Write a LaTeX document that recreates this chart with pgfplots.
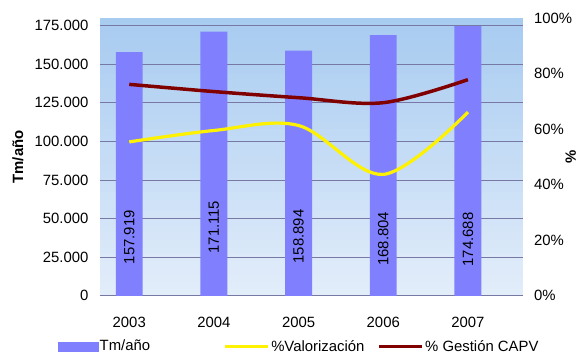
\documentclass[border=0pt]{standalone}
\usepackage{pgfplots}
\pgfplotsset{compat=1.18}
\usepackage{fontspec}
\setmainfont{Liberation Sans}

\definecolor{barblue}{RGB}{128,128,255}
\definecolor{darkred}{RGB}{128,0,0}
\definecolor{gridcol}{RGB}{120,120,165}
\definecolor{bgtop}{RGB}{166,202,240}
\definecolor{bgbot}{RGB}{226,237,250}

\pgfplotsset{
  common/.style={
    scale only axis, width=425bp, height=279bp,
    xmin=-0.35, xmax=4.65,
    /pgf/number format/assume math mode=true,
    tick style={draw=none},
    separate axis lines,
    axis line style={draw=none, draw opacity=0},
    every tick label/.append style={font=\fontsize{15}{18}\selectfont},
  },
  linelegend/.style={legend image code/.code={\draw[##1] (0bp,0bp) -- (43bp,0bp);}},
  barlegend/.style={legend image code/.code={\fill[barblue] (0bp,-5bp) rectangle (40bp,5bp);}},
}

\begin{document}
\fontsize{15}{18}\selectfont
\begin{tikzpicture}
% Tonnage bars on the left axis
\begin{axis}[common,
  set layers,
  ymin=0, ymax=180000,
  ytick={0,25000,...,175000},
  yticklabel style={xshift=-6bp},
  /pgf/number format/fixed,
  /pgf/number format/1000 sep={.},
  scaled y ticks=false,
  ymajorgrids, grid style={gridcol, line width=0.9bp},
  xtick={0,1,2,3,4},
  xticklabels={2003,2004,2005,2006,2007},
  xticklabel style={yshift=-16bp},
  ylabel={\bfseries Tm/año},
  ylabel style={at={(axis description cs:-0.193,0.5)}, anchor=center},
]
% plot-area gradient in thin bands, kept beneath the grid
\begin{pgfonlayer}{axis background}
\pgfplotsinvokeforeach{0,2.5,...,97.5}{
  \fill[bgtop!#1!bgbot] (rel axis cs:0,#1/100) rectangle (rel axis cs:1,#1/100+0.026);
}
\end{pgfonlayer}
\addplot[ybar, bar width=27bp, fill=barblue, draw=none] coordinates {
  (0,157919) (1,171115) (2,158894) (3,168804) (4,174688)
};
\node[rotate=90] at (axis cs:0,38000) {157.919};
\node[rotate=90] at (axis cs:1,44500) {171.115};
\node[rotate=90] at (axis cs:2,38500) {158.894};
\node[rotate=90] at (axis cs:3,37000) {168.804};
\node[rotate=90] at (axis cs:4,36500) {174.688};
\coordinate (bl) at (rel axis cs:0,0);
\coordinate (tr) at (rel axis cs:1,1);
\end{axis}
% Percentage lines on the right axis
\begin{axis}[common,
  ymin=0, ymax=100,
  axis y line*=right, axis x line=none,
  ytick={0,20,...,100},
  yticklabel={\pgfmathprintnumber{\tick}\%},
  yticklabel style={xshift=6bp},
  ylabel={\bfseries \%},
  ylabel style={at={(axis description cs:1.113,0.5)}, anchor=center, rotate=0},
  legend columns=3,
  legend style={at={(axis description cs:-0.0988,-0.183)}, anchor=west,
    draw=none, fill=none, font=\fontsize{15}{18}\selectfont,
    inner sep=0pt, column sep=0pt,
    nodes={inner sep=1.5bp}},
]
\addlegendimage{barlegend}
\addlegendentry{\makebox[123bp][l]{Tm/año}}
\addplot[yellow, line width=3.2bp, smooth, tension=0.55, linelegend] coordinates {
  (0,55.4) (1,59.5) (2,61.3) (3,43.7) (4,66.1)
};
\addlegendentry{\makebox[105bp][l]{\%Valorización}}
\addplot[darkred, line width=3.5bp, smooth, tension=0.55, linelegend] coordinates {
  (0,76.1) (1,73.5) (2,71.3) (3,69.5) (4,77.8)
};
\addlegendentry{\% Gestión CAPV}
\end{axis}
\path (bl) ++(-100bp,-56bp) rectangle (tr) ++(56bp,18bp);
\end{tikzpicture}
\end{document}
